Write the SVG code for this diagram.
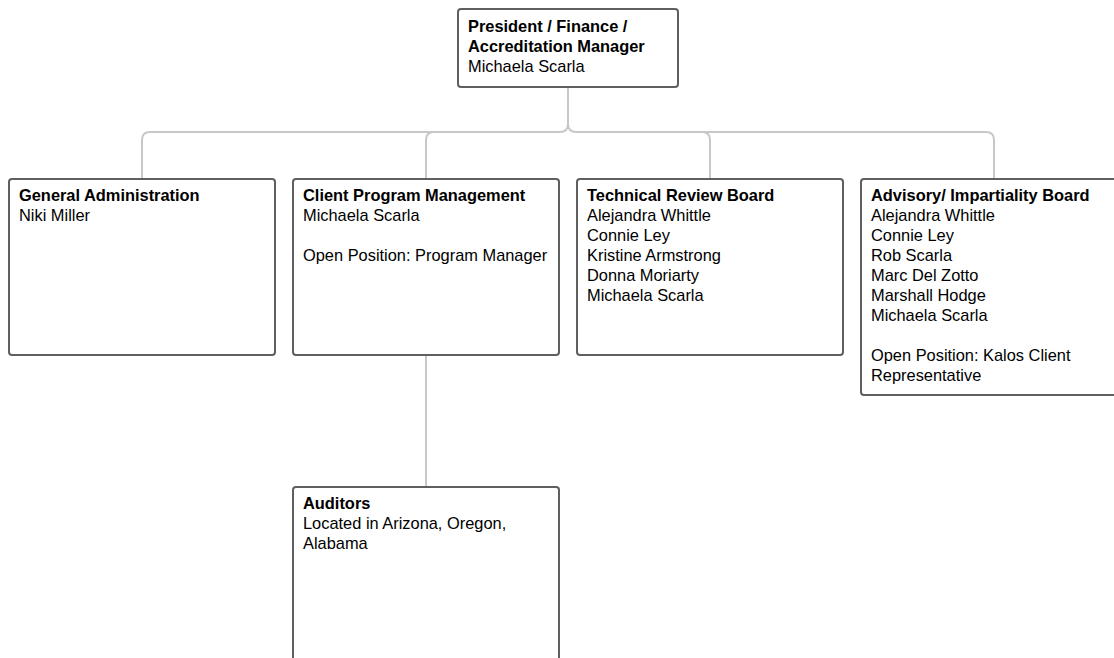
<svg xmlns="http://www.w3.org/2000/svg" width="1114" height="658" viewBox="0 0 1114 658">
<style>
.box{fill:#fff;stroke:#5f5f5f;stroke-width:2}
.t{font-family:"Liberation Sans",Arial,sans-serif;font-size:16.4px;fill:#000}
.b{font-weight:bold}
.c{fill:none;stroke:#c8c8c8;stroke-width:2}
</style>
<rect width="1114" height="658" fill="#fff"/>
<g id="connectors">
<path class="c" d="M568 87 V124 Q568 132 560 132 H150 Q142 132 142 140 V179"/>
<path class="c" d="M568 124 Q568 132 576 132 H986 Q994 132 994 140 V179"/>
<path class="c" d="M426 179 V140 Q426 132 434 132"/>
<path class="c" d="M710 179 V140 Q710 132 702 132"/>
<path class="c" d="M426 355 V487"/>
</g>
<g id="president">
<rect class="box" x="458" y="9" width="220" height="78" rx="3"/>
<text class="t b" x="468" y="32">President / Finance /</text>
<text class="t b" x="468" y="52">Accreditation Manager</text>
<text class="t" x="468" y="72">Michaela Scarla</text>
</g>
<g id="general-administration">
<rect class="box" x="9" y="179" width="266" height="176" rx="3"/>
<text class="t b" x="19" y="201">General Administration</text>
<text class="t" x="19" y="221">Niki Miller</text>
</g>
<g id="client-program-management">
<rect class="box" x="293" y="179" width="266" height="176" rx="3"/>
<text class="t b" x="303" y="201">Client Program Management</text>
<text class="t" x="303" y="221">Michaela Scarla</text>
<text class="t" x="303" y="261">Open Position: Program Manager</text>
</g>
<g id="technical-review-board">
<rect class="box" x="577" y="179" width="266" height="176" rx="3"/>
<text class="t b" x="587" y="201">Technical Review Board</text>
<text class="t" x="587" y="221">Alejandra Whittle</text>
<text class="t" x="587" y="241">Connie Ley</text>
<text class="t" x="587" y="261">Kristine Armstrong</text>
<text class="t" x="587" y="281">Donna Moriarty</text>
<text class="t" x="587" y="301">Michaela Scarla</text>
</g>
<g id="advisory-impartiality-board">
<rect class="box" x="861" y="179" width="266" height="216" rx="3"/>
<text class="t b" x="871" y="201">Advisory/ Impartiality Board</text>
<text class="t" x="871" y="221">Alejandra Whittle</text>
<text class="t" x="871" y="241">Connie Ley</text>
<text class="t" x="871" y="261">Rob Scarla</text>
<text class="t" x="871" y="281">Marc Del Zotto</text>
<text class="t" x="871" y="301">Marshall Hodge</text>
<text class="t" x="871" y="321">Michaela Scarla</text>
<text class="t" x="871" y="361">Open Position: Kalos Client</text>
<text class="t" x="871" y="381">Representative</text>
</g>
<g id="auditors">
<rect class="box" x="293" y="487" width="266" height="200" rx="3"/>
<text class="t b" x="303" y="509">Auditors</text>
<text class="t" x="303" y="529">Located in Arizona, Oregon,</text>
<text class="t" x="303" y="549">Alabama</text>
</g>
</svg>
